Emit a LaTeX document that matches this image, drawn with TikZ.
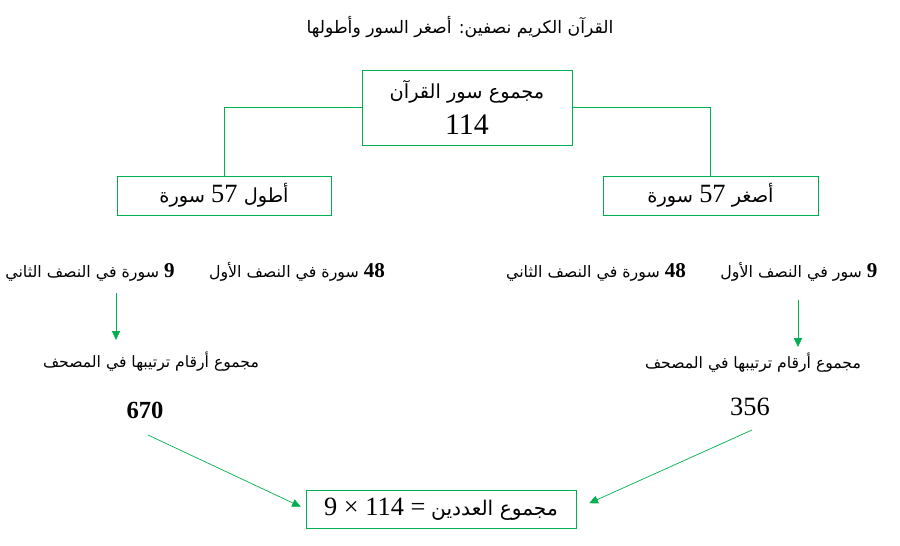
\documentclass[tikz,border=0pt]{standalone}
\usepackage{fontspec}
\usetikzlibrary{arrows.meta}
\TeXXeTstate=1
\newfontfamily\arabicfont[Script=Arabic]{DejaVu Sans}
\newfontfamily\numfont{Liberation Serif}
\definecolor{boxgreen}{RGB}{0,176,80}
\tikzset{
    frame/.style={draw=boxgreen, thin, inner sep=0pt},
    link/.style={draw=boxgreen, thin},
    flow/.style={draw=boxgreen, thin, -{Triangle[length=5pt,width=4.5pt]}},
    ar/.style={inner sep=1pt, font=\arabicfont\fontsize{9}{11}\selectfont}
}
\begin{document}
\begin{tikzpicture}
    \useasboundingbox (0,0) rectangle (18,-10.92);

    \node[ar, font=\arabicfont\fontsize{9.8}{12}\selectfont] (title) at (9.2,-0.54)
        {\beginR القرآن الكريم نصفين: أصغر السور وأطولها\endR};

    \node[frame, minimum width=4.2cm, minimum height=1.5cm, align=center] (total) at (9.34,-2.15)
        {{\arabicfont\fontsize{11}{13}\selectfont\beginR مجموع سور القرآن\endR}\\[6pt]
         {\numfont\fontsize{17}{19}\selectfont 114}};

    \node[frame, minimum width=4.28cm, minimum height=0.78cm, font=\arabicfont\fontsize{11}{13}\selectfont] (longest) at (4.48,-3.91)
        {\beginR أطول \beginL{\numfont\fontsize{15}{17}\selectfont 57}\endL{} سورة\endR};
    \node[frame, minimum width=4.3cm, minimum height=0.78cm, font=\arabicfont\fontsize{11}{13}\selectfont] (shortest) at (14.21,-3.91)
        {\beginR أصغر \beginL{\numfont\fontsize{15}{17}\selectfont 57}\endL{} سورة\endR};

    \draw[link] (total.west) -| (longest.north);
    \draw[link] (total.east) -| (shortest.north);

    % left half
    \node[ar] (lfirst) at (5.94,-5.44)
        {\beginR\beginL{\numfont\bfseries\fontsize{12}{14}\selectfont 48}\endL{} سورة في النصف الأول\endR};
    \node[ar] (lsecond) at (1.8,-5.44)
        {\beginR\beginL{\numfont\bfseries\fontsize{12}{14}\selectfont 9}\endL{} سورة في النصف الثاني\endR};
    \node[ar, font=\arabicfont\fontsize{8.9}{11}\selectfont] (lsum) at (3.02,-7.24)
        {\beginR مجموع أرقام ترتيبها في المصحف\endR};
    \node[font=\numfont\bfseries\fontsize{14}{16}\selectfont] (lvalue) at (2.9,-8.2) {670};

    % right half
    \node[ar] (rfirst) at (15.98,-5.44)
        {\beginR\beginL{\numfont\bfseries\fontsize{12}{14}\selectfont 9}\endL{} سور في النصف الأول\endR};
    \node[ar] (rsecond) at (11.92,-5.44)
        {\beginR\beginL{\numfont\bfseries\fontsize{12}{14}\selectfont 48}\endL{} سورة في النصف الثاني\endR};
    \node[ar, font=\arabicfont\fontsize{8.9}{11}\selectfont] (rsum) at (15.06,-7.26)
        {\beginR مجموع أرقام ترتيبها في المصحف\endR};
    \node[font=\numfont\fontsize{15}{17}\selectfont] (rvalue) at (15,-8.14) {356};

    \node[frame, minimum width=5.4cm, minimum height=0.76cm] (result) at (8.82,-10.18)
        {{\numfont\fontsize{15}{17}\selectfont 9 × 114 =} {\arabicfont\fontsize{11.5}{14}\selectfont\beginR مجموع العددين\endR}};

    \coordinate (ltop) at (2.32,-5.86);
    \coordinate (lbot) at (2.32,-6.8);
    \coordinate (rtop) at (15.96,-6);
    \coordinate (rbot) at (15.96,-6.94);
    \draw[flow] (ltop) -- (lbot);
    \draw[flow] (rtop) -- (rbot);

    \coordinate (lstart) at (2.96,-8.7);
    \coordinate (rstart) at (15.04,-8.6);
    \draw[flow, shorten >=3pt] (lstart) -- (result.west);
    \draw[flow, shorten >=8pt] (rstart) -- (result.east);
\end{tikzpicture}
\end{document}
